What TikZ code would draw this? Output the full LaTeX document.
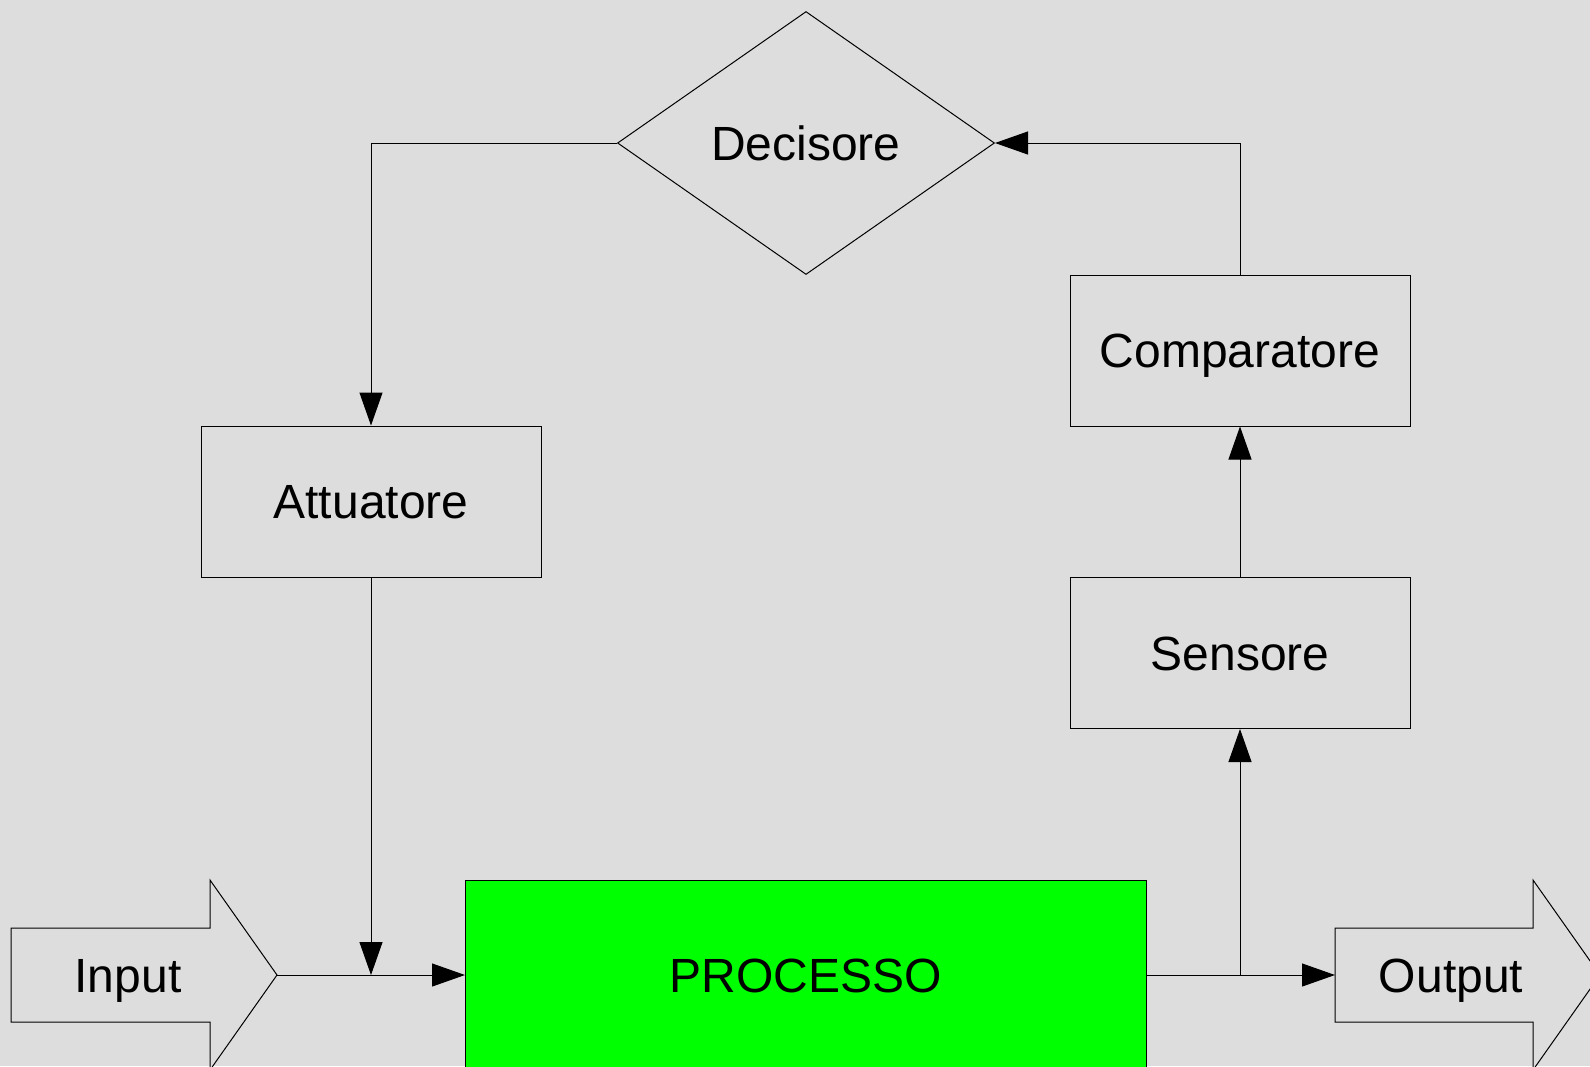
\documentclass[tikz,border=0pt]{standalone}
\usepackage{fontspec}
\setmainfont{Liberation Sans}
\usetikzlibrary{arrows.meta,shapes.geometric}
\definecolor{bgcol}{HTML}{DDDDDD}
\definecolor{procgreen}{HTML}{00FF00}
\tikzset{
  lbl/.style={font=\fontsize{24pt}{28pt}\selectfont, text height=17.2pt, text depth=0pt, inner sep=0pt},
  blockbox/.style={lbl, draw=black, line width=0.5pt, rectangle, minimum width=170pt, minimum height=75.5pt},
  decbox/.style={lbl, draw=black, line width=0.5pt, diamond, shape aspect=1.433, minimum width=188.5pt, minimum height=131.5pt},
  procbox/.style={lbl, draw=black, line width=0.5pt, fill=procgreen, rectangle, minimum width=340.5pt, minimum height=95pt},
  bigarrow/.style={draw=black, line width=0.5pt},
  conn/.style={draw=black, line width=0.5pt, -{Triangle[length=16.5pt, width=11.5pt]}},
  plainconn/.style={draw=black, line width=0.5pt},
}
\begin{document}
\begin{tikzpicture}[x=0.5pt, y=-0.5pt]
\useasboundingbox (0,0) rectangle (1590,1066);
\fill[bgcol] (0,0) rectangle (1590,1066);
\clip (0,0) rectangle (1590,1066);

% nodes
\node[decbox] (deci) at (806,143) {Decisore};
\node[blockbox] (att) at (371,501.5) {Attuatore};
\node[blockbox] (comp) at (1240,350.5) {Comparatore};
\node[blockbox] (sens) at (1240,653) {Sensore};
\node[procbox] (proc) at (806,975) {PROCESSO};

% input / output block arrows
\draw[bigarrow] (11,928) -- (210,928) -- (210,880) -- (277,975) -- (210,1070) -- (210,1022) -- (11,1022) -- cycle;
\node[lbl] (input) at (128,975) {Input};
\coordinate (intip) at (277,975);

\draw[bigarrow] (1335,928) -- (1533,928) -- (1533,880) -- (1600,975) -- (1533,1070) -- (1533,1022) -- (1335,1022) -- cycle;
\node[lbl] (output) at (1451,975) {Output};
\coordinate (outtail) at (1335,975);

% connectors
\draw[conn] (intip) -- (proc.west);
\draw[conn] (att.south) -- (att.south |- proc.west);
\draw[conn] (proc.east) -- (outtail);
\coordinate (branch) at (sens.south |- proc.east);
\draw[conn] (branch) -- (sens.south);
\draw[conn] (sens.north) -- (comp.south);
\draw[conn] (comp.north) |- (deci.east);
\draw[conn] (deci.west) -| (att.north);
\end{tikzpicture}
\end{document}
